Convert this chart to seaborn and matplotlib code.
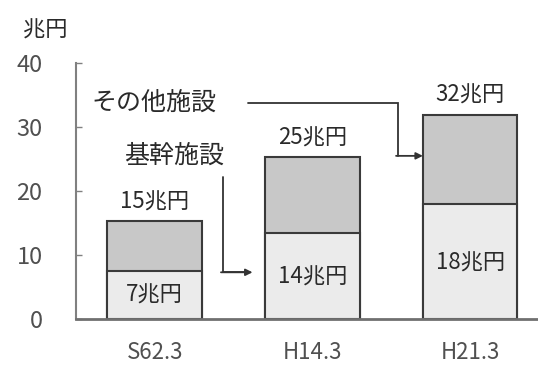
import matplotlib
matplotlib.use("Agg")
import matplotlib.pyplot as plt
import seaborn as sns
import pandas as pd

categories = ["S62.3", "H14.3", "H21.3"]
base_values = [7.5, 13.4, 17.9]      # 基幹施設
other_values = [7.8, 11.9, 14.0]     # その他施設
total_labels = ["15兆円", "25兆円", "32兆円"]
base_labels = ["7兆円", "14兆円", "18兆円"]
y_ticks = [0, 10, 20, 30, 40]

sns.set_theme(style="white")
plt.rcParams["font.family"] = ["Noto Sans CJK JP", "DejaVu Sans"]

totals = [b + o for b, o in zip(base_values, other_values)]
df = pd.DataFrame({"cat": categories, "base": base_values, "total": totals})

fig = plt.figure(figsize=(5.38, 3.69), dpi=100)
ax = fig.add_axes([0.141, 0.1355, 0.859, 0.6935])

edge = "#3a3a3a"
sns.barplot(data=df, x="cat", y="total", color="#c8c8c8", width=0.6,
            edgecolor=edge, linewidth=1.5, saturation=1, ax=ax)
sns.barplot(data=df, x="cat", y="base", color="#ebebeb", width=0.6,
            edgecolor=edge, linewidth=1.5, saturation=1, ax=ax)

ax.set_ylim(0, 40)
ax.set_xlim(-0.5, 2.43)
ax.set_yticks(y_ticks)
ax.set_xlabel("")
ax.set_ylabel("")
for s in ["top", "right"]:
    ax.spines[s].set_visible(False)
ax.spines["left"].set_color("#808080")
ax.spines["left"].set_linewidth(1.5)
ax.spines["bottom"].set_color("#707070")
ax.spines["bottom"].set_linewidth(2)
ax.tick_params(axis="y", direction="in", length=4, width=1, color="#808080",
               pad=24, labelsize=17, labelcolor="#505050", left=True)
ax.tick_params(axis="x", length=0, pad=16, labelsize=16, labelcolor="#505050")

txt = "#2a2a2a"
for i, (t, lab) in enumerate(zip(totals, total_labels)):
    ax.annotate(lab, xy=(i, t), xytext=(0, 14), textcoords="offset points",
                ha="center", va="center", fontsize=16, color=txt)

ax.text(0, 3.75, base_labels[0], ha="center", va="center", fontsize=16, color=txt)
ax.text(1, 6.6, base_labels[1], ha="center", va="center", fontsize=16, color=txt)
ax.text(2, 8.75, base_labels[2], ha="center", va="center", fontsize=16, color=txt)

# unit label
fig.text(0.085, 0.919, "兆円", ha="center", va="center", fontsize=16, color=txt)

# annotations
ax.text(-0.40, 33.75, "その他施設", ha="left", va="center", fontsize=18, color=txt)
ax.text(-0.195, 25.6, "基幹施設", ha="left", va="center", fontsize=18, color=txt)

lc = "#333333"
ax.plot([0.59, 1.54, 1.54], [33.75, 33.75, 25.5], color=lc, lw=1.3, solid_joinstyle="miter")
ax.annotate("", xy=(1.7, 25.5), xytext=(1.53, 25.5),
            arrowprops=dict(arrowstyle="-|>", color=lc, lw=1.3, mutation_scale=10,
                            shrinkA=0, shrinkB=0))
ax.plot([0.43, 0.43, 0.6], [22.2, 7.3, 7.3], color=lc, lw=1.3, solid_joinstyle="miter")
ax.annotate("", xy=(0.62, 7.3), xytext=(0.42, 7.3),
            arrowprops=dict(arrowstyle="-|>", color=lc, lw=1.3, mutation_scale=10,
                            shrinkA=0, shrinkB=0))

fig.savefig("out.png", dpi=100)
